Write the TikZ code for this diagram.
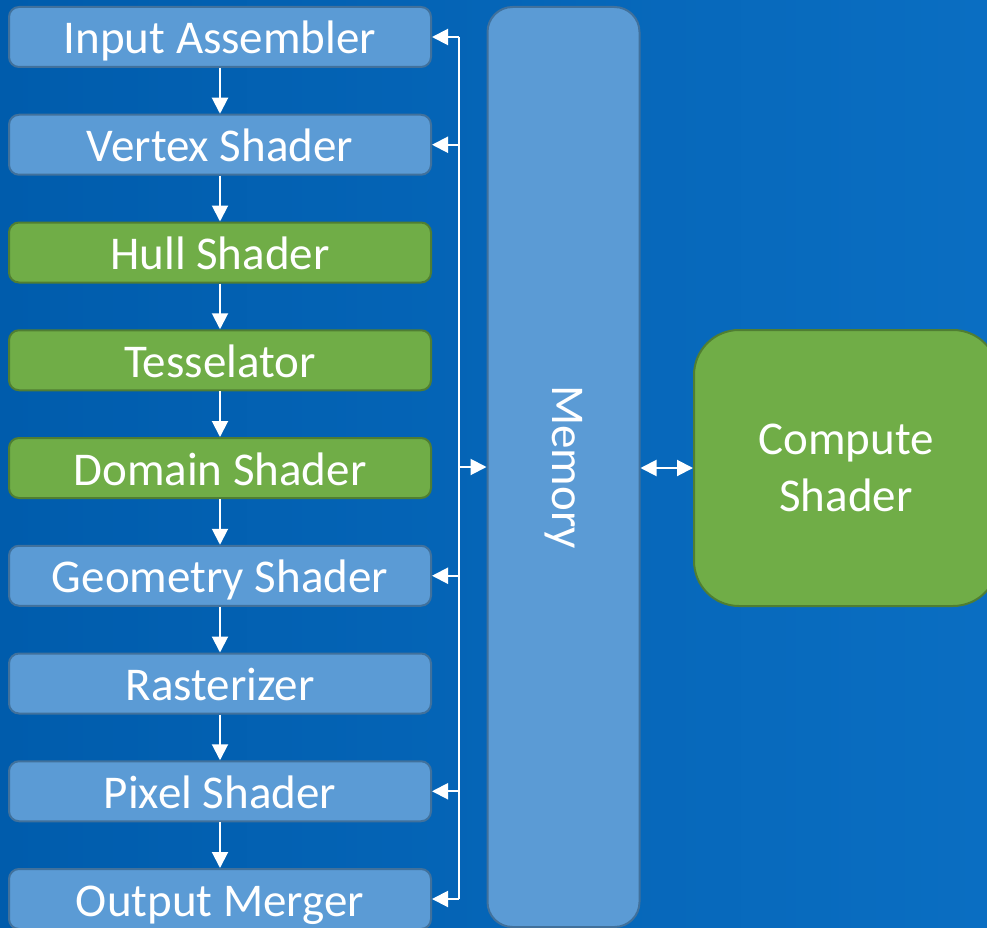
\documentclass[tikz,border=0pt]{standalone}
\usepackage{fontspec}
\setmainfont{Carlito}
\usetikzlibrary{positioning,arrows.meta}
\definecolor{bgleft}{HTML}{005CAC}
\definecolor{bgright}{HTML}{0A6EC2}
\definecolor{stagefill}{HTML}{5B9BD5}
\definecolor{stageline}{HTML}{41719C}
\definecolor{greenfill}{HTML}{70AD47}
\definecolor{greenline}{HTML}{507E32}

\begin{document}
\begin{tikzpicture}[x=1pt, y=-1pt,
    every node/.style={font=\fontsize{47}{50}\selectfont, text=white},
    stage/.style={draw=stageline, fill=stagefill, line width=2pt, rounded corners=10pt,
      minimum width=422pt, minimum height=60pt, inner sep=0pt,
      text height=40pt, text depth=6pt},
    prog/.style={stage, draw=greenline, fill=greenfill},
    flow/.style={draw=white, line width=2pt, -{Triangle[length=16pt,width=16pt]}}]
  \useasboundingbox (0,0) rectangle (987,928);
  \shade[left color=bgleft, right color=bgright] (0,0) rectangle (987,928);

  % pipeline
  \node[stage] (ia) at (220,37) {Input Assembler};
  \node[stage, below=45.75pt of ia] (vs) {Vertex Shader};
  \node[prog, below=45.75pt of vs] (hs) {Hull Shader};
  \node[prog, below=45.75pt of hs] (ts) {Tesselator};
  \node[prog, below=45.75pt of ts] (ds) {Domain Shader};
  \node[stage, below=45.75pt of ds] (gs) {Geometry Shader};
  \node[stage, below=45.75pt of gs] (rs) {Rasterizer};
  \node[stage, below=45.75pt of rs] (ps) {Pixel Shader};
  \node[stage, below=45.75pt of ps] (om) {Output Merger};

  \node[draw=stageline, fill=stagefill, line width=2pt, rounded corners=25pt,
    minimum width=152pt, minimum height=920pt, inner sep=0pt] (mem) at (563.5,467) {};
  \node[rotate=-90] at (mem.center) {Memory};
  \node[draw=greenline, fill=greenfill, line width=2pt, rounded corners=45pt,
    minimum width=304pt, minimum height=276pt, align=center,
    font=\fontsize{47}{57}\selectfont] (cs) at (846,468) {Compute\\Shader};

  \draw[flow] (ia) -- (vs);
  \draw[flow] (vs) -- (hs);
  \draw[flow] (hs) -- (ts);
  \draw[flow] (ts) -- (ds);
  \draw[flow] (ds) -- (gs);
  \draw[flow] (gs) -- (rs);
  \draw[flow] (rs) -- (ps);
  \draw[flow] (ps) -- (om);

  % bus to memory
  \coordinate (bus) at (459,0);
  \draw[white, line width=2pt] (bus |- ia) -- (bus |- om);
  \draw[flow] (bus |- ia) -- (ia.east);
  \draw[flow] (bus |- vs) -- (vs.east);
  \draw[flow] (bus |- gs) -- (gs.east);
  \draw[flow] (bus |- ps) -- (ps.east);
  \draw[flow] (bus |- om) -- (om.east);
  \draw[flow] (bus |- mem) -- (mem.west);
  \draw[flow, {Triangle[length=16pt,width=16pt]}-{Triangle[length=16pt,width=16pt]}]
    (mem.east |- cs) -- (cs.west);
\end{tikzpicture}
\end{document}
